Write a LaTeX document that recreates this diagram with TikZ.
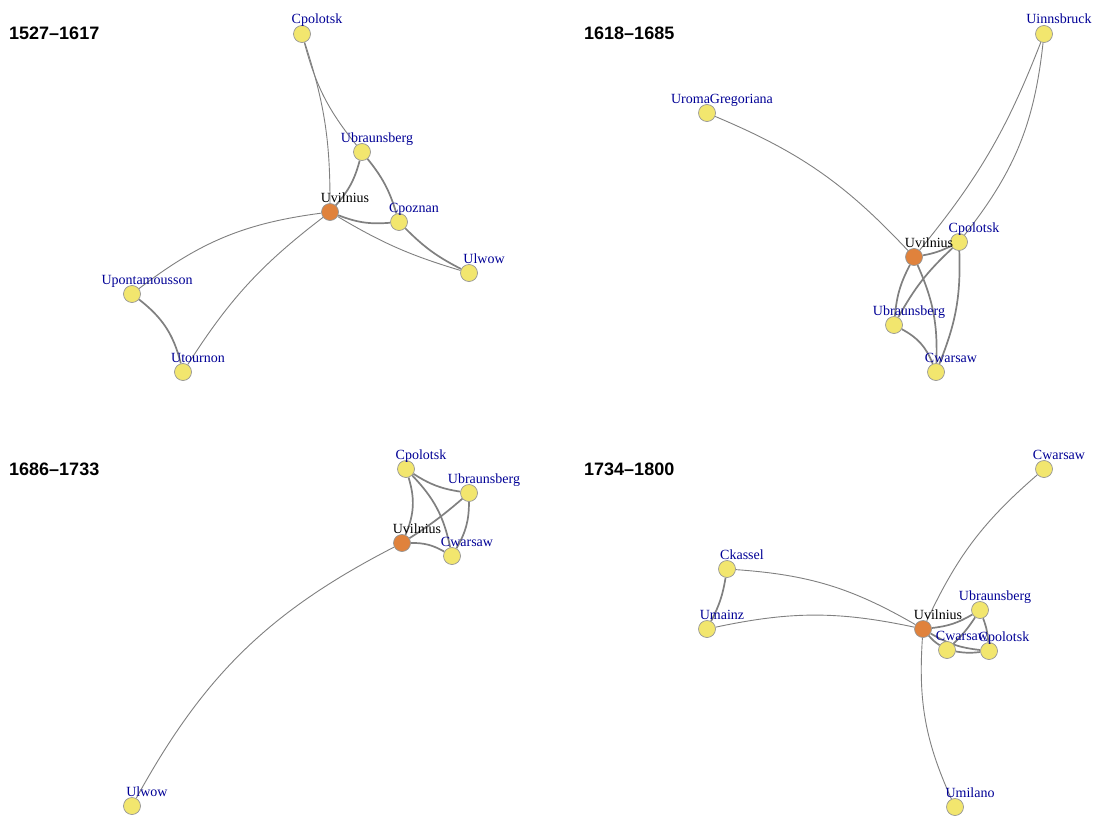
\documentclass[tikz,border=0pt]{standalone}
\usepackage{fontspec}
\setmainfont{Liberation Serif}
\newfontfamily\titlefont{Liberation Sans}
\definecolor{vyel}{RGB}{242,230,110}
\definecolor{vorg}{RGB}{224,130,60}
\definecolor{vbord}{RGB}{150,150,150}
\definecolor{egray}{RGB}{128,128,128}
\definecolor{labblue}{RGB}{0,0,150}
\pgfdeclarelayer{bg}
\pgfdeclarelayer{edges}
\pgfdeclarelayer{labels}
\pgfsetlayers{bg,edges,main,labels}
\newcommand\myvtx[6]{%
  \node[vbase,#2] (#1) at (#3,#4) {};
  \begin{pgfonlayer}{labels}\node[lab,text=#6] (#1l) at ({#3+15},{#4-10}) {#5};\end{pgfonlayer}}
\begin{document}
\begin{tikzpicture}[x=1pt,y=-1pt,
  vbase/.style={circle, draw=vbord, line width=0.7pt, minimum size=17pt, inner sep=0pt},
  vy/.style={fill=vyel},
  vo/.style={fill=vorg},
  lab/.style={font=\fontsize{14}{14}\selectfont, anchor=base, inner sep=0pt},
  ethin/.style={draw=egray, line width=0.9pt},
  ethick/.style={draw=egray, line width=1.7pt},
  ttl/.style={font=\titlefont\bfseries\fontsize{18}{18}\selectfont, anchor=base west, inner sep=0pt}]
\useasboundingbox (0,0) rectangle (1094,816);
\begin{pgfonlayer}{bg}
\fill[white] (0,0) rectangle (1094,816);
\end{pgfonlayer}
% titles
\node[ttl] (t1) at (9,40) {1527–1617};
\node[ttl] (t2) at (584,40) {1618–1685};
\node[ttl] (t3) at (9,475) {1686–1733};
\node[ttl] (t4) at (584,475) {1734–1800};
% panel 1
\myvtx{apol}{vy}{302}{34}{Cpolotsk}{labblue}
\myvtx{abra}{vy}{362}{152}{Ubraunsberg}{labblue}
\myvtx{avil}{vo}{330}{212}{Uvilnius}{black}
\myvtx{apoz}{vy}{399}{222}{Cpoznan}{labblue}
\myvtx{alwo}{vy}{469}{273}{Ulwow}{labblue}
\myvtx{apon}{vy}{132}{294}{Upontamousson}{labblue}
\myvtx{atou}{vy}{183}{372}{Utournon}{labblue}
% panel 2
\myvtx{binn}{vy}{1044}{34}{Uinnsbruck}{labblue}
\myvtx{brom}{vy}{707}{113}{UromaGregoriana}{labblue}
\myvtx{bvil}{vo}{914}{257}{Uvilnius}{black}
\myvtx{bpol}{vy}{959}{242}{Cpolotsk}{labblue}
\myvtx{bbra}{vy}{894}{325}{Ubraunsberg}{labblue}
\myvtx{bwar}{vy}{936}{372}{Cwarsaw}{labblue}
% panel 3
\myvtx{cpol}{vy}{406}{469}{Cpolotsk}{labblue}
\myvtx{cbra}{vy}{469}{493}{Ubraunsberg}{labblue}
\myvtx{cvil}{vo}{402}{543}{Uvilnius}{black}
\myvtx{cwar}{vy}{452}{556}{Cwarsaw}{labblue}
\myvtx{clwo}{vy}{132}{806}{Ulwow}{labblue}
% panel 4
\myvtx{dwtop}{vy}{1044}{469}{Cwarsaw}{labblue}
\myvtx{dkas}{vy}{727}{569}{Ckassel}{labblue}
\myvtx{dmai}{vy}{707}{629}{Umainz}{labblue}
\myvtx{dvil}{vo}{923}{629}{Uvilnius}{black}
\myvtx{dbra}{vy}{980}{610}{Ubraunsberg}{labblue}
\myvtx{dwar}{vy}{947}{650}{Cwarsaw}{labblue}
\myvtx{dpol}{vy}{989}{651}{Cpolotsk}{labblue}
\myvtx{dmil}{vy}{955}{807}{Umilano}{labblue}
\begin{pgfonlayer}{edges}
% panel 1
\draw[ethin] (apol) to[bend left=9] (avil);
\draw[ethin] (apol) to[bend right=12] (abra);
\draw[ethick] (abra) to[bend left=13] (avil);
\draw[ethick] (abra) to[bend left=11] (apoz);
\draw[ethick] (avil) to[bend right=13] (apoz);
\draw[ethin] (avil) to[bend right=7] (alwo);
\draw[ethick] (apoz) to[bend right=9] (alwo);
\draw[ethin] (avil) to[bend right=15] (apon);
\draw[ethin] (avil) to[bend right=10] (atou);
\draw[ethick] (apon) to[bend left=19] (atou);
% panel 2
\draw[ethin] (brom) to[bend left=12] (bvil);
\draw[ethin] (binn) to[bend left=9] (bvil);
\draw[ethin] (binn) to[bend left=16] (bpol);
\draw[ethick] (bvil) to[bend right=8] (bpol);
\draw[ethick] (bvil) to[bend right=11] (bbra);
\draw[ethick] (bvil) to[bend left=13] (bwar);
\draw[ethick] (bpol) to[bend right=9] (bbra);
\draw[ethick] (bpol) to[bend left=12] (bwar);
\draw[ethick] (bbra) to[bend left=20] (bwar);
% panel 3
\draw[ethick] (cpol) to[bend right=12] (cbra);
\draw[ethick] (cpol) to[bend left=20] (cvil);
\draw[ethick] (cpol) to[bend left=16] (cwar);
\draw[ethick] (cbra) to[bend left=4] (cvil);
\draw[ethick] (cbra) to[bend left=15] (cwar);
\draw[ethick] (cvil) to[bend left=15] (cwar);
\draw[ethin] (cvil) to[bend right=17] (clwo);
% panel 4
\draw[ethin] (dwtop) to[bend right=12] (dvil);
\draw[ethin] (dkas) to[bend left=13] (dvil);
\draw[ethick] (dkas) to[bend left=9] (dmai);
\draw[ethin] (dmai) to[bend left=12] (dvil);
\draw[ethin] (dvil) to[bend right=14] (dmil);
\draw[ethick] (dvil) to[bend right=12] (dbra);
\draw[ethick] (dvil) to[bend right=8] (dwar);
\draw[ethick] (dvil) to[bend right=12] (dpol);
\draw[ethick] (dwar) to[bend right=8] (dpol);
\draw[ethick] (dbra) to[bend left=6] (dwar);
\draw[ethick] (dbra) to[bend left=8] (dpol);
\end{pgfonlayer}
\end{tikzpicture}
\end{document}
